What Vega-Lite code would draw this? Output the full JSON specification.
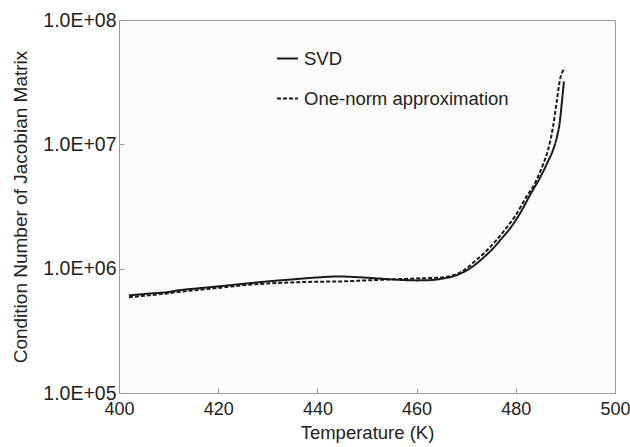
{
  "$schema": "https://vega.github.io/schema/vega-lite/v6.json",
  "width": 496,
  "height": 373,
  "autosize": {"type": "none"},
  "padding": {"left": 119, "top": 20, "right": 15, "bottom": 54},
  "background": "white",
  "config": {
    "font": "Liberation Sans",
    "view": {"stroke": "#9a9a9a", "strokeWidth": 1, "fill": "#fcfcfc"},
    "axis": {
      "domainColor": "#9a9a9a",
      "tickColor": "#9a9a9a",
      "labelColor": "#222222",
      "titleColor": "#222222",
      "labelFont": "Liberation Sans",
      "titleFont": "Liberation Sans",
      "grid": false
    }
  },
  "data": {
    "values": [
      {"T": 402, "v": 610000, "method": "SVD"},
      {"T": 406, "v": 630000, "method": "SVD"},
      {"T": 410, "v": 650000, "method": "SVD"},
      {"T": 412, "v": 670000, "method": "SVD"},
      {"T": 416, "v": 695000, "method": "SVD"},
      {"T": 420, "v": 720000, "method": "SVD"},
      {"T": 425, "v": 755000, "method": "SVD"},
      {"T": 430, "v": 790000, "method": "SVD"},
      {"T": 435, "v": 820000, "method": "SVD"},
      {"T": 440, "v": 850000, "method": "SVD"},
      {"T": 444, "v": 865000, "method": "SVD"},
      {"T": 448, "v": 855000, "method": "SVD"},
      {"T": 452, "v": 835000, "method": "SVD"},
      {"T": 456, "v": 815000, "method": "SVD"},
      {"T": 460, "v": 805000, "method": "SVD"},
      {"T": 463, "v": 810000, "method": "SVD"},
      {"T": 465, "v": 830000, "method": "SVD"},
      {"T": 467, "v": 860000, "method": "SVD"},
      {"T": 469, "v": 920000, "method": "SVD"},
      {"T": 471, "v": 1020000, "method": "SVD"},
      {"T": 473, "v": 1180000, "method": "SVD"},
      {"T": 475, "v": 1400000, "method": "SVD"},
      {"T": 477, "v": 1720000, "method": "SVD"},
      {"T": 479, "v": 2150000, "method": "SVD"},
      {"T": 481, "v": 2850000, "method": "SVD"},
      {"T": 483, "v": 4000000, "method": "SVD"},
      {"T": 485, "v": 5500000, "method": "SVD"},
      {"T": 486.5, "v": 7300000, "method": "SVD"},
      {"T": 487.5, "v": 9000000, "method": "SVD"},
      {"T": 488.3, "v": 11500000, "method": "SVD"},
      {"T": 488.8, "v": 14500000, "method": "SVD"},
      {"T": 489.3, "v": 22000000, "method": "SVD"},
      {"T": 489.7, "v": 32000000, "method": "SVD"},
      {"T": 402, "v": 590000, "method": "One-norm approximation"},
      {"T": 406, "v": 610000, "method": "One-norm approximation"},
      {"T": 410, "v": 635000, "method": "One-norm approximation"},
      {"T": 412, "v": 650000, "method": "One-norm approximation"},
      {"T": 416, "v": 675000, "method": "One-norm approximation"},
      {"T": 420, "v": 700000, "method": "One-norm approximation"},
      {"T": 425, "v": 735000, "method": "One-norm approximation"},
      {"T": 430, "v": 760000, "method": "One-norm approximation"},
      {"T": 435, "v": 775000, "method": "One-norm approximation"},
      {"T": 440, "v": 785000, "method": "One-norm approximation"},
      {"T": 445, "v": 790000, "method": "One-norm approximation"},
      {"T": 450, "v": 805000, "method": "One-norm approximation"},
      {"T": 455, "v": 820000, "method": "One-norm approximation"},
      {"T": 460, "v": 835000, "method": "One-norm approximation"},
      {"T": 464, "v": 845000, "method": "One-norm approximation"},
      {"T": 466, "v": 860000, "method": "One-norm approximation"},
      {"T": 468, "v": 900000, "method": "One-norm approximation"},
      {"T": 470, "v": 1000000, "method": "One-norm approximation"},
      {"T": 472, "v": 1170000, "method": "One-norm approximation"},
      {"T": 474, "v": 1380000, "method": "One-norm approximation"},
      {"T": 476, "v": 1680000, "method": "One-norm approximation"},
      {"T": 478, "v": 2100000, "method": "One-norm approximation"},
      {"T": 480, "v": 2700000, "method": "One-norm approximation"},
      {"T": 482, "v": 3700000, "method": "One-norm approximation"},
      {"T": 484, "v": 5000000, "method": "One-norm approximation"},
      {"T": 485.5, "v": 6900000, "method": "One-norm approximation"},
      {"T": 486.5, "v": 9000000, "method": "One-norm approximation"},
      {"T": 487.5, "v": 13800000, "method": "One-norm approximation"},
      {"T": 488.3, "v": 22700000, "method": "One-norm approximation"},
      {"T": 488.9, "v": 33000000, "method": "One-norm approximation"},
      {"T": 489.9, "v": 41000000, "method": "One-norm approximation"}
    ]
  },
  "mark": {"type": "line", "interpolate": "monotone", "color": "#1a1a1a", "strokeWidth": 2},
  "encoding": {
    "x": {
      "field": "T",
      "type": "quantitative",
      "scale": {"domain": [400, 500], "nice": false, "zero": false},
      "axis": {
        "title": "Temperature (K)",
        "values": [400, 420, 440, 460, 480, 500],
        "tickSize": -5,
        "labelPadding": 12,
        "labelFontSize": 18,
        "titleFontSize": 18.5,
        "titleFontWeight": "normal",
        "titlePadding": 5,
        "labelFlush": false
      }
    },
    "y": {
      "field": "v",
      "type": "quantitative",
      "scale": {"type": "log", "domain": [100000, 100000000], "nice": false},
      "axis": {
        "title": "Condition Number of Jacobian Matrix",
        "values": [100000, 1000000, 10000000, 100000000],
        "labelExpr": "'1.0E+0' + round(log(datum.value) / LN10)",
        "tickSize": -5,
        "labelPadding": 8,
        "labelFontSize": 19.5,
        "titleFontSize": 19,
        "titleFontWeight": "normal",
        "titlePadding": 12
      }
    },
    "strokeDash": {
      "field": "method",
      "type": "nominal",
      "scale": {"domain": ["SVD", "One-norm approximation"], "range": [[1, 0], [4, 2]]},
      "legend": {
        "title": null,
        "orient": "none",
        "legendX": 157,
        "legendY": 27,
        "symbolType": "stroke",
        "symbolSize": 441,
        "symbolStrokeWidth": 2,
        "symbolStrokeColor": "#1a1a1a",
        "labelFontSize": 18.5,
        "labelColor": "#222222",
        "labelOffset": 5,
        "labelLimit": 400,
        "rowPadding": 19
      }
    }
  }
}
